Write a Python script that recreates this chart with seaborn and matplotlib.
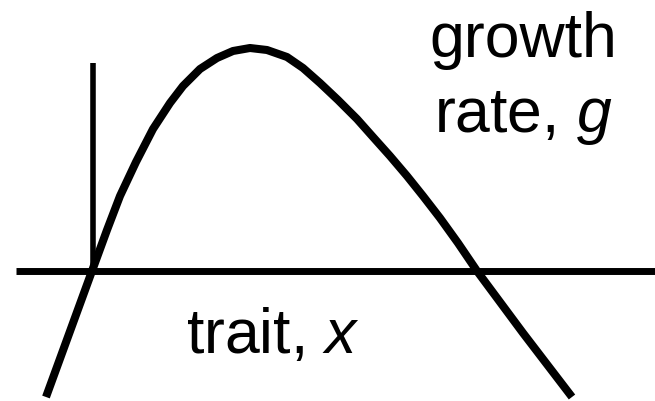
import matplotlib
matplotlib.use("Agg")
import matplotlib.pyplot as plt
import seaborn as sns

# curve (trait offset from origin, growth rate)
trait = [-46, 0, 15, 28, 44, 61, 78, 91, 108, 125, 141, 158, 175, 195,
         211, 228, 246, 265, 281, 298, 315, 331, 348, 366, 385, 431, 480]
growth = [-126, 0, 41, 75, 109, 142, 168, 185, 202, 213, 220, 223, 221, 214,
          203, 188, 171, 152, 134, 115, 95, 75, 53, 28, 0, -62, -126]

# axis extents
x_axis_span = [-76, 563]
g_axis_top = 208

sns.set_style("white")
plt.rcParams["font.family"] = ["Liberation Sans", "DejaVu Sans"]
plt.rcParams["text.color"] = "black"
plt.rcParams["mathtext.fontset"] = "custom"
plt.rcParams["mathtext.rm"] = "Liberation Sans"
plt.rcParams["mathtext.it"] = "Liberation Sans:italic"

fig = plt.figure(figsize=(6.55, 4.01), dpi=100)
ax = fig.add_axes([0, 0, 1, 1])

# axes of the schematic
ax.hlines(0, x_axis_span[0], x_axis_span[1], color="black", lw=5, zorder=1)
ax.vlines(1, 0, g_axis_top, color="black", lw=4, zorder=1)

sns.lineplot(x=trait, y=growth, sort=False, estimator=None, color="black",
             lw=5.8, ax=ax, solid_capstyle="butt", solid_joinstyle="round",
             zorder=2)

ax.text(431, 214, "growth", fontsize=45, ha="center", va="baseline")
ax.text(431, 139, "rate, $g$", fontsize=45, ha="center", va="baseline")
ax.text(181, -82, "trait, $x$", fontsize=45, ha="center", va="baseline")

ax.set_xlim(-92, 563)
ax.set_ylim(-130, 271)
ax.axis("off")

fig.savefig("out.png", dpi=100)
